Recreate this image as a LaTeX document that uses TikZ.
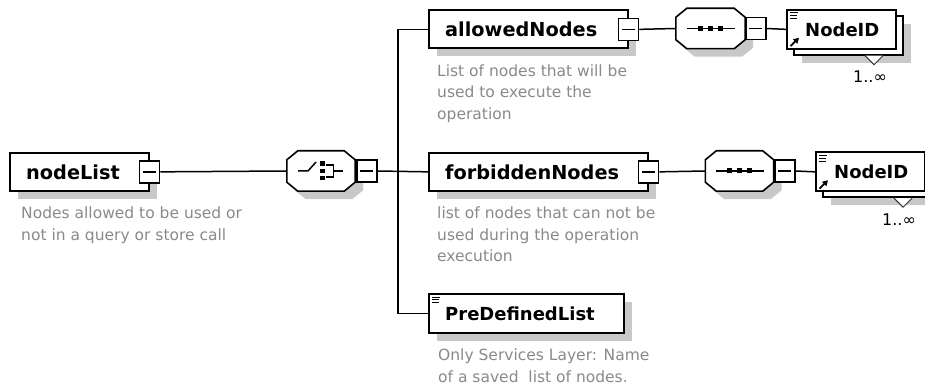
\documentclass[tikz,border=0pt]{standalone}
\usepackage{fontspec}
\setmainfont{DejaVu Sans}
\usetikzlibrary{shadows,arrows.meta}
\definecolor{shadowgray}{RGB}{200,200,200}
\definecolor{notegray}{RGB}{138,138,138}

% octagonal compositor frame with its shadow, built on an invisible anchor box
\newcommand\octo[1]{%
  \fill[shadowgray] ([shift={(19,8)}]#1.north west) -- ([shift={(-3,8)}]#1.north east)
    -- ([shift={(8,17)}]#1.north east) -- ([shift={(8,-1)}]#1.south east)
    -- ([shift={(-3,8)}]#1.south east) -- ([shift={(19,8)}]#1.south west)
    -- ([shift={(8,-1)}]#1.south west) -- ([shift={(8,17)}]#1.north west) -- cycle;
  \draw[cframe] ([shift={(11,0)}]#1.north west) -- ([shift={(-11,0)}]#1.north east)
    -- ([shift={(0,9)}]#1.north east) -- ([shift={(0,-9)}]#1.south east)
    -- ([shift={(-11,0)}]#1.south east) -- ([shift={(11,0)}]#1.south west)
    -- ([shift={(0,-9)}]#1.south west) -- ([shift={(0,9)}]#1.north west) -- cycle;}

% sequence symbol: a line with three dots
\newcommand\seqicon[1]{%
  \draw[wire] ([xshift=-24pt]#1.center) -- ([xshift=24pt]#1.center);
  \fill ([shift={(-12.5,-2.5)}]#1.center) rectangle ++(5,5);
  \fill ([shift={(-2.5,-2.5)}]#1.center) rectangle ++(5,5);
  \fill ([shift={(7.5,-2.5)}]#1.center) rectangle ++(5,5);}

% choice symbol: a switch, a column of dots and a bracket
\newcommand\choiceicon[1]{%
  \draw[wire] ([shift={(-23,0)}]#1.center) -- ([shift={(-13,0)}]#1.center) -- ([shift={(-5,-9)}]#1.center);
  \fill ([shift={(-1,-9.5)}]#1.center) rectangle ++(4.5,4.5);
  \fill ([shift={(-1,-2.25)}]#1.center) rectangle ++(4.5,4.5);
  \fill ([shift={(-1,5)}]#1.center) rectangle ++(4.5,4.5);
  \draw[wire] ([shift={(5,-6)}]#1.center) -- ([shift={(12.5,-6)}]#1.center)
    -- ([shift={(12.5,6)}]#1.center) -- ([shift={(5,6)}]#1.center);
  \draw[wire] ([shift={(12.5,0)}]#1.center) -- ([shift={(22,0)}]#1.center);}

% simple-content mark in the top left corner of an element box
\newcommand\listmark[1]{%
  \draw[line width=1pt] ([shift={(4,4)}]#1.north west) -- ++(7.5,0)
    ([shift={(4,6.8)}]#1.north west) -- ++(6.5,0)
    ([shift={(4,9.6)}]#1.north west) -- ++(6.5,0);}

% reference arrow in the bottom left corner of an element box
\newcommand\refarrow[1]{%
  \draw[line width=1.8pt, -{Triangle[length=5.5pt,width=6pt]}]
    ([shift={(4.5,-3.5)}]#1.south west) -- ([shift={(13,-12)}]#1.south west);}

% open occurrence triangle under a repeated element
\newcommand\repmark[1]{%
  \draw[line width=1pt, draw=black!80, fill=white]
    ([shift={(72,0)}]#1.south west) -- ([shift={(81,9)}]#1.south west) -- ([shift={(90,0)}]#1.south west);}

\begin{document}
\begin{tikzpicture}[x=1pt,y=-1pt,
  wire/.style={line width=1.5pt, black},
  cframe/.style={draw=black, line width=1.6pt, fill=white},
  elbox/.style={draw=black, fill=white, line width=1.7pt, inner sep=0pt, anchor=north west,
    drop shadow={shadow xshift=8pt, shadow yshift=-8pt, fill=shadowgray, opacity=1}},
  refbox/.style={draw=black, fill=white, line width=1.7pt, inner sep=0pt, anchor=north west},
  anchorbox/.style={draw=none, inner sep=0pt},
  pm/.style={draw=black, fill=white, line width=1.5pt, inner sep=0pt,
    minimum width=20pt, minimum height=22pt,
    path picture={\draw[line width=1.5pt] ([xshift=-6.5pt]path picture bounding box.center)
      -- ([xshift=6.5pt]path picture bounding box.center);}},
  eltext/.style={anchor=west, inner sep=0pt, font=\bfseries\fontsize{19.3}{22}\selectfont},
  elsmall/.style={anchor=west, inner sep=0pt, font=\bfseries\fontsize{18}{22}\selectfont},
  notetext/.style={anchor=north west, inner sep=0pt, align=left, text=notegray,
    font=\fontsize{15.5}{21.5}\selectfont},
  occurs/.style={inner sep=0pt, font=\fontsize{16}{18}\selectfont},
]
\clip (0,0) rectangle (925,387);
\fill[white] (0,0) rectangle (925,387);

% root element
\node[elbox, minimum width=139pt, minimum height=38pt] (nodeList) at (9,152) {};
\node[eltext] (nodeListName) at ([xshift=17pt]nodeList.west) {nodeList};
\node[pm] (nodeListPM) at (nodeList.east) {};
\node[notetext] (nodeListNote) at (21,207) {Nodes allowed to be used or\\not in a query or store call};

% choice compositor
\node[anchorbox, minimum width=68pt, minimum height=40pt] (choice) at (321,171) {};
\octo{choice}
\choiceicon{choice}
\node[pm, anchor=west] (choicePM) at ([xshift=1pt]choice.east) {};

% allowedNodes branch
\node[elbox, minimum width=199pt, minimum height=38pt] (allowedNodes) at (428,9.5) {};
\node[eltext] (allowedNodesName) at ([xshift=17pt]allowedNodes.west) {allowedNodes};
\node[pm] (allowedNodesPM) at (allowedNodes.east) {};
\node[notetext] (allowedNodesNote) at (437,64.5) {List of nodes that will be\\used to execute the\\operation};

\node[anchorbox, minimum width=69pt, minimum height=40pt] (seqA) at (710.5,28.5) {};
\octo{seqA}
\seqicon{seqA}
\node[pm, anchor=west] (seqAPM) at (seqA.east) {};

\node[elbox, minimum width=109pt, minimum height=39pt] (nodeIdAback) at (793,15) {};
\repmark{nodeIdAback}
\node[refbox, minimum width=109pt, minimum height=39pt] (nodeIdA) at (786,9) {};
\node[elsmall] (nodeIdAName) at ([xshift=19pt]nodeIdA.west) {NodeID};
\listmark{nodeIdA}
\refarrow{nodeIdA}
\node[occurs] (nodeIdAOcc) at ([shift={(77,21)}]nodeIdAback.south west) {1..∞};

% forbiddenNodes branch
\node[elbox, minimum width=219pt, minimum height=38pt] (forbiddenNodes) at (428,152) {};
\node[eltext] (forbiddenNodesName) at ([xshift=17pt]forbiddenNodes.west) {forbiddenNodes};
\node[pm] (forbiddenNodesPM) at (forbiddenNodes.east) {};
\node[notetext] (forbiddenNodesNote) at (437,207) {list of nodes that can not be\\used during the operation\\execution};

\node[anchorbox, minimum width=68pt, minimum height=40pt] (seqB) at (739.5,171) {};
\octo{seqB}
\seqicon{seqB}
\node[pm, anchor=west] (seqBPM) at ([xshift=0.5pt]seqB.east) {};

\node[elbox, minimum width=109pt, minimum height=39pt] (nodeIdBback) at (822,157.5) {};
\repmark{nodeIdBback}
\node[refbox, minimum width=109pt, minimum height=39pt] (nodeIdB) at (815,151.5) {};
\node[elsmall] (nodeIdBName) at ([xshift=19pt]nodeIdB.west) {NodeID};
\listmark{nodeIdB}
\refarrow{nodeIdB}
\node[occurs] (nodeIdBOcc) at ([shift={(77,21)}]nodeIdBback.south west) {1..∞};

% PreDefinedList branch
\node[elbox, minimum width=195pt, minimum height=39pt] (preDefinedList) at (428,293) {};
\node[elsmall] (preDefinedListName) at ([xshift=17pt]preDefinedList.west) {PreDefinedList};
\listmark{preDefinedList}
\node[notetext] (preDefinedListNote) at (438,349) {Only Services Layer: Name\\of a saved~ list of nodes.};

% connectors
\coordinate (trunk) at (398,171);
\draw[wire] (nodeListPM.east) -- (choice.west);
\draw[wire] (choicePM.east) -- (forbiddenNodes.west);
\draw[wire] (allowedNodes.west) -| (trunk) |- (preDefinedList.west);
\draw[wire] (allowedNodesPM.east) -- (seqA.west);
\draw[wire] (seqAPM.east) -- (nodeIdA.west);
\draw[wire] (forbiddenNodesPM.east) -- (seqB.west);
\draw[wire] (seqBPM.east) -- (nodeIdB.west);
\end{tikzpicture}
\end{document}
